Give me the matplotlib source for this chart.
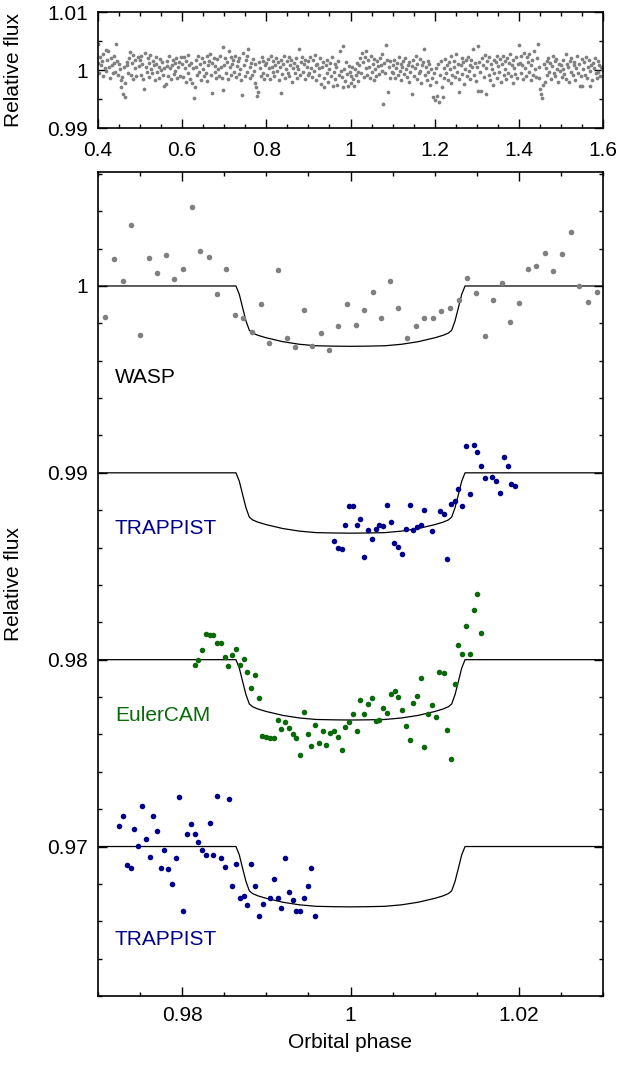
import matplotlib
matplotlib.use('Agg')
import matplotlib.pyplot as plt
import numpy as np
from matplotlib.ticker import MultipleLocator, FuncFormatter

plt.rcParams['font.family'] = ['Liberation Sans', 'DejaVu Sans']
plt.rcParams['font.size'] = 15

# ---------------- top panel: full WASP light curve (phase in 1/1000, flux deviation in 1e-4) ----
TOP_PHASE_MILLI = [
    400, 401, 403, 405, 407, 409, 411, 413, 416, 418, 420, 422, 424, 426, 428, 431, 433, 435, 437, 439,
    441, 443, 445, 448, 450, 452, 454, 455, 457, 459, 461, 463, 465, 468, 470, 472, 474, 476, 478, 480,
    482, 484, 487, 489, 491, 494, 497,
    499, 501, 503, 505, 507, 510, 512, 514, 516, 518, 520, 522, 524, 527, 529, 531, 533, 535, 537, 539,
    541, 544, 546, 548, 550, 552, 554, 556, 558, 561, 563, 565, 567, 569, 571, 573, 575, 578, 580, 582,
    584, 586, 588, 590, 593, 595, 597,
    600, 602, 604, 606, 608, 610, 613, 615, 617, 619, 621, 623, 625, 628, 630, 632, 634, 636, 638, 641,
    643, 645, 647, 649, 651, 653, 656, 658, 660, 662, 664, 666, 668, 670, 672, 675, 677, 679, 681, 683,
    685, 687, 689, 692, 694, 696, 698,
    700, 702, 704, 706, 709, 711, 713, 715, 717, 719, 721, 723, 726, 728, 730, 732, 734, 736, 738, 740,
    743, 745, 747, 749, 751, 753, 755, 757, 760, 762, 764, 766, 768, 770, 772, 774, 776, 778, 780, 783,
    785, 787, 789, 791, 793, 795, 798,
    800, 802, 804, 806, 808, 811, 813, 815, 817, 819, 821, 823, 825, 828, 830, 832, 834, 836, 838, 840,
    842, 845, 847, 849, 851, 853, 855, 857, 859, 862, 864, 866, 868, 870, 872, 874, 876, 878, 881, 883,
    885, 887, 889, 891, 893, 896, 898,
    900, 902, 904, 907, 909, 911, 913, 915, 917, 919, 921, 924, 926, 928, 930, 932, 934, 936, 938, 941,
    943, 945, 947, 949, 951, 953, 955, 958, 960, 962, 964, 966, 968, 970, 972, 975, 977, 979, 981, 983,
    985, 987, 989, 992, 994, 996, 998,
    1000, 1002, 1004, 1006, 1009, 1011, 1013, 1015, 1017, 1019, 1021, 1023, 1025, 1027, 1030, 1032, 1034, 1036, 1038, 1040,
    1042, 1044, 1047, 1049, 1051, 1053, 1055, 1057, 1059, 1061, 1064, 1066, 1068, 1070, 1072, 1074, 1076, 1078, 1080, 1083,
    1085, 1087, 1089, 1091, 1093, 1095, 1098,
    1100, 1102, 1104, 1106, 1108, 1111, 1113, 1115, 1117, 1119, 1121, 1123, 1125, 1128, 1130, 1132, 1134, 1136, 1138, 1140,
    1142, 1145, 1147, 1149, 1151, 1153, 1155, 1157, 1159, 1162, 1164, 1166, 1168, 1170, 1172, 1174, 1176, 1179, 1181, 1183,
    1185, 1187, 1189, 1191, 1193, 1196, 1198,
    1200, 1202, 1204, 1206, 1208, 1211, 1213, 1215, 1217, 1219, 1221, 1223, 1225, 1228, 1230, 1232, 1234, 1236, 1238, 1240,
    1242, 1245, 1247, 1249, 1251, 1253, 1255, 1257, 1259, 1262, 1264, 1266, 1268, 1270, 1272, 1274, 1276, 1279, 1281, 1283,
    1285, 1287, 1289, 1291, 1293, 1296, 1298,
    1300, 1302, 1304, 1306, 1308, 1311, 1313, 1315, 1317, 1319, 1321, 1323, 1325, 1328, 1330, 1332, 1334, 1336, 1338, 1340,
    1342, 1345, 1347, 1349, 1351, 1353, 1355, 1357, 1359, 1362, 1364, 1366, 1368, 1370, 1372, 1374, 1376, 1379, 1381, 1383,
    1385, 1387, 1389, 1391, 1393, 1396, 1398,
    1400, 1402, 1404, 1406, 1408, 1411, 1413, 1415, 1417, 1419, 1421, 1423, 1425, 1428, 1430, 1432, 1434, 1436, 1438, 1440,
    1442, 1445, 1447, 1449, 1451, 1453, 1455, 1457, 1459, 1462, 1464, 1466, 1468, 1470, 1472, 1474, 1476, 1479, 1481, 1483,
    1485, 1487, 1489, 1491, 1493, 1496, 1498,
    1500, 1502, 1504, 1506, 1508, 1511, 1513, 1515, 1517, 1519, 1521, 1523, 1525, 1528, 1530, 1532, 1534, 1536, 1538, 1540,
    1542, 1545, 1547, 1549, 1551, 1553, 1555, 1557, 1559, 1562, 1564, 1566, 1568, 1570, 1572, 1574, 1576, 1579, 1581, 1583,
    1585, 1587, 1589, 1591, 1593, 1596, 1598,
]
TOP_DEV = [
    12, 44, -5, 22, 8, 15, -10, 28, 3, 35, -2, 18, 33, 6, -14, 20, 9, -6, 25, 12,
    -3, 44, 16, -8, 10, 2, -18, -30, -12, -41, 5, -47, -22, 8, 14, -5, 20, 31, -9, 12,
    26, -15, 4, 18, -11, 23, 7,
    18, -8, 25, 10, -15, -32, 30, 5, -3, 21, 12, -12, 26, 2, -6, 16, 8, -18, 11, 22,
    -4, 6, -14, 19, 0, 13, -9, -27, 4, -24, 15, 7, -11, 24, 3, -16, 9, 17, -7, 12,
    -2, 20, -13, 6, 14, -10, 23,
    10, -12, 22, 4, -20, 15, -5, 26, 8, -15, 12, -22, 3, -49, -30, 18, 6, -9, 24, -3,
    11, -17, 20, 2, -11, 14, -6, 25, -19, 9, 16, 28, -8, -40, 12, 21, -4, 7, -14, 19,
    1, -10, 24, 5, -13, -35, 39,
    8, 20, -6, 14, -16, 33, 5, 22, -9, 11, 18, -3, 25, -12, 7, 15, -7, 21, 2, -18,
    -43, 30, 9, -10, 17, -4, 24, 36, 6, -14, 12, -8, 19, -2, -22, 10, -30, -45, -38, 14,
    4, -11, 22, -5, 16, -16, 8,
    12, -8, 19, 3, -15, 24, 6, -4, 16, -11, 9, 21, -2, 13, -18, 5, -39, 18, -7, 11,
    25, -13, 2, 15, -5, 22, -10, 8, 17, -20, 4, 12, -6, 20, -14, 7, 1, 36, -9, 14,
    23, -3, 10, -16, 18, 5, -8,
    15, -6, 22, 4, -12, 18, -2, 26, 9, -17, 11, 3, -9, 20, -24, 6, 14, -14, -30, 8,
    -5, 17, -20, 1, 12, -11, 23, -28, -3, 10, -16, 5, -25, 16, -8, 33, -1, -12, 41, -30,
    2, -19, 13, -7, -27, 7, -4,
    -10, -22, 5, -15, -28, 2, -8, 12, -19, -3, 8, 20, -6, 29, 14, -12, 22, 3, 33, -9,
    17, 6, -14, 24, -4, 11, -18, 19, 1, -11, 15, 7, -7, 21, 9, 28, -2, -59, 12, -6,
    43, 18, -38, 5, -13, 16, -4,
    8, -5, 18, -14, 4, 12, -9, 22, -2, 10, -17, 6, 15, -7, 20, 1, -12, 9, -20, 14,
    -3, -41, 7, 17, -10, 3, 24, -15, 11, -6, 19, -1, -22, 8, 13, 36, -8, 5, -18, 16,
    -4, 10, -25, 2, -13, -47, -6,
    -52, 4, -20, -45, 10, -55, -8, 16, -30, -47, 3, -14, 19, -5, 9, -18, 13, 1, -22, 24,
    -9, 6, 15, -12, 28, -3, 11, -38, -16, 8, 20, -7, 14, -24, 2, 17, -11, 22, -2, 9,
    -15, 18, 5, 36, -8, 12, -19,
    6, -37, 41, 14, -4, -37, 20, 9, -12, 26, 3, -41, 16, -8, 22, -18, 11, 1, -25, 18,
    -6, 13, 24, -14, 7, -3, 19, -20, 10, 25, -9, 15, 2, -16, 21, -5, 12, 28, -11, 8,
    -22, 17, 4, -7, 23, -13, 10,
    43, 12, -6, 25, 8, -15, 30, 4, -10, 22, 14, -4, 27, -18, 9, 18, -8, 33, 2, -12,
    20, 44, 6, -14, -32, -41, -48, -26, 10, -20, 3, 16, -9, 21, -3, 12, -16, 7, 24, -6,
    15, -11, 19, 2, -20, 11, -2,
    9, -12, 18, 2, -7, 27, -15, 11, 5, -20, 16, -3, 21, -9, 8, 14, -17, 3, 24, -5,
    10, -27, -11, 19, -27, 1, 13, -8, 22, -14, 6, 17, -2, -27, 9, -18, 12, 4, 20, -6,
    -13, 15, -4, 8, -10, 5, 1,
]

# ---------------- bottom panel data (phase, relative flux incl. offsets) ----------------
WASP_PHASE = [0.97089, 0.97194, 0.97295, 0.97395, 0.97500, 0.97605, 0.97706, 0.97807, 0.97907, 0.98012,
              0.98117, 0.98214, 0.98319, 0.98419, 0.98520, 0.98625, 0.98726, 0.98827, 0.98932, 0.99032,
              0.99137, 0.99242, 0.99343, 0.99444, 0.99544, 0.99649, 0.99750, 0.99855, 0.99956, 1.00060,
              1.00161, 1.00262, 1.00367, 1.00468, 1.00569, 1.00673, 1.00774, 1.00879, 1.00980, 1.01081,
              1.01185, 1.01286, 1.01387, 1.01492, 1.01593, 1.01693, 1.01798, 1.01899, 1.02000, 1.02105,
              1.02206, 1.02310, 1.02411, 1.02516, 1.02617, 1.02718, 1.02818, 1.02923]
WASP_FLUX = [0.99835, 1.00144, 1.00028, 1.00327, 0.99740, 1.00149, 1.00068, 1.00164, 1.00036, 1.00089,
             1.00421, 1.00187, 1.00153, 0.99959, 1.00089, 0.99847, 0.99826, 0.99755, 0.99906, 0.99696,
             1.00085, 0.99724, 0.99675, 0.99874, 0.99680, 0.99746, 0.99655, 0.99788, 0.99904, 0.99790,
             0.99870, 0.99970, 0.99828, 1.00027, 0.99881, 0.99723, 0.99787, 0.99831, 0.99831, 0.99867,
             0.99883, 0.99927, 1.00041, 0.99964, 0.99733, 0.99927, 1.00018, 0.99808, 0.99911, 1.00091,
             1.00108, 1.00178, 1.00078, 1.00172, 1.00288, 0.99998, 0.99915, 0.99970]

TRAP1_PHASE = [0.99806, 0.99851, 0.99895, 0.99940, 0.99980, 1.00032, 1.00073, 1.00117, 1.00165, 1.00210,
               1.00254, 1.00298, 1.00343, 1.00391, 1.00435, 1.00480, 1.00520, 1.00564, 1.00609, 1.00657,
               1.00702, 1.00746, 1.00790, 1.00835, 1.00879, 1.00972, 1.01060, 1.01105, 1.01149, 1.01194,
               1.01238, 1.01282, 1.01327, 1.01367, 1.01415, 1.01464, 1.01508, 1.01552, 1.01597, 1.01685,
               1.01730, 1.01774, 1.01818, 1.01867, 1.01911, 1.01956]
TRAP1_FLUX = [0.98633, 0.98599, 0.98594, 0.98720, 0.98822, 0.98825, 0.98719, 0.98754, 0.98551, 0.98694,
              0.98647, 0.98701, 0.98719, 0.98715, 0.98827, 0.98736, 0.98626, 0.98601, 0.98564, 0.98697,
              0.98829, 0.98692, 0.98710, 0.98720, 0.98801, 0.98687, 0.98795, 0.98779, 0.98541, 0.98834,
              0.98849, 0.98913, 0.98824, 0.99144, 0.98884, 0.99148, 0.99109, 0.99034, 0.98973, 0.98977,
              0.98954, 0.98893, 0.99084, 0.99039, 0.98938, 0.98929]

EULER_PHASE = [0.98149, 0.98194, 0.98238, 0.98278, 0.98327, 0.98371, 0.98416, 0.98460, 0.98504, 0.98549,
               0.98597, 0.98641, 0.98686, 0.98730, 0.98775, 0.98819, 0.98863, 0.98907, 0.98952, 0.98996,
               0.99044, 0.99089, 0.99133, 0.99177, 0.99222, 0.99266, 0.99311, 0.99355, 0.99399, 0.99444,
               0.99492, 0.99536, 0.99581, 0.99625, 0.99669, 0.99714, 0.99758, 0.99806, 0.99851, 0.99895,
               0.99940, 0.99984, 1.00028, 1.00073, 1.00117, 1.00165, 1.00210, 1.00254, 1.00298, 1.00343,
               1.00387, 1.00435, 1.00480, 1.00524, 1.00569, 1.00613, 1.00657, 1.00702, 1.00746, 1.00790,
               1.00835, 1.00879, 1.00923, 1.00968, 1.01012, 1.01056, 1.01105, 1.01149, 1.01194, 1.01238,
               1.01282, 1.01327, 1.01371, 1.01415, 1.01464, 1.01508, 1.01552]
EULER_FLUX = [0.97971, 0.97996, 0.98050, 0.98136, 0.98132, 0.98130, 0.98089, 0.98089, 0.98013, 0.97964,
              0.98025, 0.98059, 0.97970, 0.98004, 0.97934, 0.97846, 0.97918, 0.97793, 0.97589, 0.97586,
              0.97582, 0.97582, 0.97679, 0.97630, 0.97668, 0.97636, 0.97604, 0.97582, 0.97491, 0.97718,
              0.97600, 0.97539, 0.97648, 0.97555, 0.97618, 0.97545, 0.97607, 0.97620, 0.97584, 0.97516,
              0.97641, 0.97664, 0.97711, 0.97618, 0.97784, 0.97711, 0.97764, 0.97793, 0.97673, 0.97679,
              0.97741, 0.97716, 0.97814, 0.97832, 0.97802, 0.97732, 0.97646, 0.97568, 0.97766, 0.97805,
              0.97900, 0.97534, 0.97709, 0.97759, 0.97695, 0.97936, 0.97927, 0.97623, 0.97466, 0.97870,
              0.98079, 0.98029, 0.98182, 0.98032, 0.98268, 0.98350, 0.98141]

TRAP2_PHASE = [0.97250, 0.97295, 0.97339, 0.97387, 0.97432, 0.97476, 0.97520, 0.97569, 0.97613, 0.97657,
               0.97702, 0.97746, 0.97790, 0.97835, 0.97879, 0.97923, 0.97968, 0.98012, 0.98057, 0.98105,
               0.98149, 0.98194, 0.98238, 0.98282, 0.98327, 0.98371, 0.98419, 0.98464, 0.98508, 0.98552,
               0.98597, 0.98641, 0.98686, 0.98730, 0.98774, 0.98819, 0.98863, 0.98911, 0.98956, 0.99044,
               0.99089, 0.99133, 0.99177, 0.99222, 0.99266, 0.99311, 0.99355, 0.99403, 0.99448, 0.99492,
               0.99536, 0.99581]
TRAP2_FLUX = [0.97111, 0.97164, 0.96900, 0.96886, 0.97095, 0.97005, 0.97216, 0.97041, 0.96943, 0.97166,
              0.97082, 0.96887, 0.96980, 0.96882, 0.96802, 0.96941, 0.97266, 0.96657, 0.97068, 0.97118,
              0.97066, 0.97023, 0.96982, 0.96954, 0.97125, 0.96955, 0.97268, 0.96937, 0.96889, 0.97255,
              0.96787, 0.96904, 0.96723, 0.96737, 0.96689, 0.96904, 0.96789, 0.96630, 0.96693, 0.96725,
              0.96825, 0.96727, 0.96670, 0.96939, 0.96754, 0.96712, 0.96657, 0.96657, 0.96723, 0.96787,
              0.96887, 0.96629]

# transit model (symmetric about phase 1): |phase - 1| and depth below baseline
MODEL_DPHASE = [0.0, 0.002, 0.00409, 0.00607, 0.00806, 0.01004, 0.01100, 0.01163, 0.01202,
                0.01242, 0.01282, 0.01321, 0.01361, 0.031]
MODEL_DEPTH = [0.00323, 0.00322, 0.00320, 0.00312, 0.00298, 0.00277, 0.00264, 0.00252, 0.00237,
               0.00187, 0.00116, 0.00045, 0.0, 0.0]
BASELINES = [1.00, 0.99, 0.98, 0.97]

LABELS = ['WASP', 'TRAPPIST', 'EulerCAM', 'TRAPPIST']
LABEL_Y = [0.9951, 0.9870, 0.9770, 0.9650]
LABEL_X = 0.9720

GRAY = '#808080'
BLUE = '#00008b'
GREEN = '#0a6a0a'
LABEL_COLORS = ['black', BLUE, GREEN, BLUE]

W, H = 622, 1065
fig = plt.figure(figsize=(W / 100, H / 100), dpi=100)
ax1 = fig.add_axes([98 / W, 1 - 128 / H, 505 / W, 116 / H])
ax2 = fig.add_axes([98 / W, 1 - 996 / H, 505 / W, 824 / H])

fmt = FuncFormatter(lambda v, p: f'{v:g}')

# top panel
ax1.plot(np.array(TOP_PHASE_MILLI) / 1000.0, 1 + np.array(TOP_DEV) * 1e-4, 'o',
         color=GRAY, ms=2.7, mew=0)
ax1.set_xlim(0.4, 1.6)
ax1.set_ylim(0.99, 1.01)
ax1.xaxis.set_major_locator(MultipleLocator(0.2))
ax1.xaxis.set_minor_locator(MultipleLocator(0.05))
ax1.yaxis.set_major_locator(MultipleLocator(0.01))
ax1.yaxis.set_minor_locator(MultipleLocator(0.005))
ax1.set_ylabel('Relative flux')

# bottom panel
dph = np.array(MODEL_DPHASE)
dep = np.array(MODEL_DEPTH)
mph = np.concatenate([1 - dph[::-1], 1 + dph[1:]])
mdep = np.concatenate([dep[::-1], dep[1:]])
for b in BASELINES:
    ax2.plot(mph, b - mdep, '-', color='black', lw=0.9, zorder=2)

ax2.plot(WASP_PHASE, WASP_FLUX, 'o', color=GRAY, ms=4.0, mew=0, zorder=3)
ax2.plot(TRAP1_PHASE, TRAP1_FLUX, 'o', color=BLUE, ms=4.0, mew=0, zorder=3)
ax2.plot(EULER_PHASE, EULER_FLUX, 'o', color=GREEN, ms=4.0, mew=0, zorder=3)
ax2.plot(TRAP2_PHASE, TRAP2_FLUX, 'o', color=BLUE, ms=4.0, mew=0, zorder=3)

for lab, ly, lc in zip(LABELS, LABEL_Y, LABEL_COLORS):
    ax2.text(LABEL_X, ly, lab, color=lc, ha='left', va='center', fontsize=15)

ax2.set_xlim(0.97, 1.03)
ax2.set_ylim(0.962, 1.0061)
ax2.xaxis.set_major_locator(MultipleLocator(0.02))
ax2.xaxis.set_minor_locator(MultipleLocator(0.005))
ax2.yaxis.set_major_locator(MultipleLocator(0.01))
ax2.yaxis.set_minor_locator(MultipleLocator(0.002))
ax2.set_ylabel('Relative flux')
ax2.set_xlabel('Orbital phase')

for ax in (ax1, ax2):
    ax.xaxis.set_major_formatter(fmt)
    ax.yaxis.set_major_formatter(fmt)
    ax.tick_params(which='both', direction='in', top=True, right=True, width=1.0, labelsize=15, pad=7)
    ax.tick_params(which='major', length=6.5)
    ax.tick_params(which='minor', length=3.2)
    for s in ax.spines.values():
        s.set_linewidth(1.2)

ax1.tick_params(axis='x', pad=9)
ax1.yaxis.set_label_coords(-0.148, 0.5)
ax2.yaxis.set_label_coords(-0.148, 0.5)
ax2.xaxis.set_label_coords(0.5, -0.045)

fig.savefig('out.png', dpi=100)
